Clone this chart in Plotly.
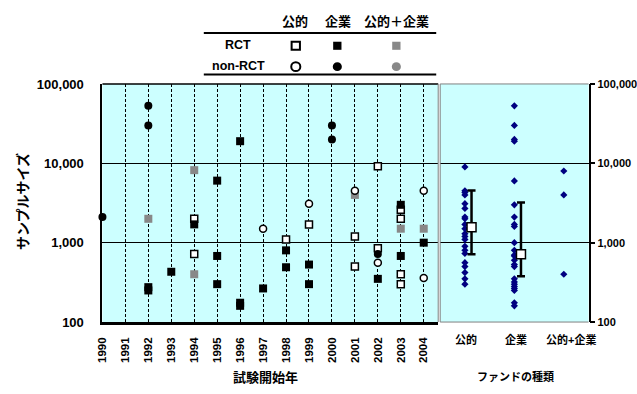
import plotly.graph_objects as go

W, H = 637, 394
FONT = "Liberation Sans, Arial, Noto Sans CJK JP"

# ---- sample sizes by trial start year ----
years = list(range(1990, 2005))
year_labels = [str(y) for y in years]

pub_rct_year = [1994, 1994, 1998, 1999, 2001, 2001, 2002, 2002, 2003, 2003, 2003, 2003]
pub_rct_n = [2000, 720, 1100, 1700, 1200, 500, 9200, 850, 2600, 2000, 400, 300]

com_rct_year = [1992, 1992, 1993, 1994, 1995, 1995, 1995, 1996, 1996, 1996, 1997,
                1998, 1998, 1999, 1999, 2002, 2003, 2003, 2004]
com_rct_n = [275, 250, 430, 1700, 6050, 680, 300, 19000, 175, 160, 265,
             800, 490, 530, 300, 350, 3000, 680, 1000]

mix_rct_year = [1992, 1994, 1994, 2001, 2003, 2004]
mix_rct_n = [2000, 8200, 400, 4000, 1500, 1500]

pub_non_year = [1997, 1999, 2001, 2002, 2004, 2004]
pub_non_n = [1500, 3100, 4500, 560, 4500, 360]

com_non_year = [1990, 1992, 1992, 2000, 2000, 2002]
com_non_n = [2100, 53000, 30000, 30000, 20000, 720]

# ---- sample sizes by funding type ----
fund_types = ["公的", "企業", "公的+企業"]
pub_all = [9000, 4500, 4300, 4000, 3100, 2700, 2100, 2000, 1700, 1500, 1300,
           1200, 1100, 900, 800, 730, 560, 500, 420, 350, 300]
com_all = [53000, 30000, 20000, 19000, 6000, 3000, 2100, 1700, 1600, 1000, 800,
           700, 680, 600, 530, 500, 350, 320, 300, 280, 265, 250, 175, 160]
mix_all = [8000, 4000, 400]
summary_center = [1560, 716]
summary_low = [716, 377]
summary_high = [4550, 3200]

y_ticks = [100, 1000, 10000, 100000]
y_ticktext = ["100", "1,000", "10,000", "100,000"]


def px(x):
    return x / W


def py(y):
    return 1 - y / H


L_X0, L_X1 = 97.5, 437
R_X0, R_X1 = 439, 589
P_Y0, P_Y1 = 80, 327.5

fig = go.Figure()

WHITE_SQ = dict(symbol="square", size=7, color="white", line=dict(color="black", width=1.5))
BLACK_SQ = dict(symbol="square", size=8, color="black", line=dict(width=0))
GRAY_SQ = dict(symbol="square", size=8, color="#888888", line=dict(width=0))
WHITE_CI = dict(symbol="circle", size=7, color="white", line=dict(color="black", width=1.5))
BLACK_CI = dict(symbol="circle", size=8, color="black", line=dict(width=0))

for xs, ys, mk in [
    (pub_rct_year, pub_rct_n, WHITE_SQ),
    (com_rct_year, com_rct_n, BLACK_SQ),
    (mix_rct_year, mix_rct_n, GRAY_SQ),
    (pub_non_year, pub_non_n, WHITE_CI),
    (com_non_year, com_non_n, BLACK_CI),
]:
    fig.add_trace(go.Scatter(x=xs, y=ys, mode="markers", marker=mk,
                             xaxis="x", yaxis="y", cliponaxis=False,
                             hoverinfo="skip"))

# funding-type panel: individual studies
for i, vals in enumerate([pub_all, com_all, mix_all]):
    fig.add_trace(go.Scatter(x=[i] * len(vals), y=vals, mode="markers",
                             marker=dict(symbol="diamond", size=5.5, color="#000080"),
                             xaxis="x2", yaxis="y2", hoverinfo="skip"))

# summary markers with ranges, offset slightly right of the dots
sx = [i + 0.134 for i in range(len(summary_center))]
fig.add_trace(go.Scatter(
    x=sx, y=summary_center, mode="markers",
    marker=dict(symbol="square", size=9, color="white", line=dict(color="black", width=1.5)),
    error_y=dict(type="data", symmetric=False,
                 array=[h - c for h, c in zip(summary_high, summary_center)],
                 arrayminus=[c - l for c, l in zip(summary_center, summary_low)],
                 color="black", thickness=2.5, width=4),
    xaxis="x2", yaxis="y2", hoverinfo="skip"))

tick_font = dict(family=FONT, size=13, color="black", weight="bold")

fig.update_layout(
    width=W, height=H,
    margin=dict(l=0, r=0, t=0, b=0),
    paper_bgcolor="white",
    plot_bgcolor="#CCFFFF",
    showlegend=False,
    font=dict(family=FONT, color="black"),
    xaxis=dict(
        domain=[px(L_X0), px(L_X1)], range=[1990, 2004.63], anchor="y",
        tickvals=years, ticktext=year_labels, tickangle=-90,
        tickfont=dict(family=FONT, size=11.5, color="black", weight="bold"),
        ticklabelstandoff=8,
        showgrid=True, gridcolor="black", gridwidth=1, griddash="3px,2px",
        showline=True, linecolor="black", linewidth=2.5, zeroline=False,
    ),
    yaxis=dict(
        domain=[py(P_Y1), py(P_Y0)], type="log", range=[2, 5], anchor="x",
        tickvals=y_ticks, ticktext=y_ticktext, tickfont=tick_font,
        ticklabelstandoff=14,
        showgrid=True, gridcolor="black", gridwidth=1,
        showline=True, linecolor="black", linewidth=2, zeroline=False,
    ),
    xaxis2=dict(
        domain=[px(R_X0), px(R_X1)], range=[-0.5, 2.5], anchor="y2",
        tickvals=[0, 1, 2], ticktext=["", "", ""],
        showgrid=False, showline=False, zeroline=False,
    ),
    yaxis2=dict(
        domain=[py(P_Y1), py(P_Y0)], type="log", range=[2, 5], anchor="x2",
        side="right", tickvals=y_ticks, ticktext=y_ticktext,
        tickfont=dict(family=FONT, size=11, color="black", weight="bold"),
        ticks="outside", ticklen=5, tickwidth=1.5, tickcolor="black",
        showgrid=True, gridcolor="black", gridwidth=1,
        showline=True, linecolor="black", linewidth=1.5, zeroline=False,
    ),
)

shapes = []
# panel borders
shapes.append(dict(type="line", xref="paper", yref="paper",
                   x0=px(L_X0), x1=px(L_X1), y0=py(P_Y0), y1=py(P_Y0),
                   line=dict(color="black", width=1.5)))
shapes.append(dict(type="line", xref="paper", yref="paper",
                   x0=px(L_X1), x1=px(L_X1), y0=py(P_Y0), y1=py(P_Y1),
                   line=dict(color="#808080", width=1)))
for (x0, y0, x1, y1) in [(R_X0, P_Y0, R_X1, P_Y0), (R_X0, P_Y0, R_X0, P_Y1),
                         (R_X0, P_Y1, R_X1, P_Y1)]:
    shapes.append(dict(type="line", xref="paper", yref="paper",
                       x0=px(x0), x1=px(x1), y0=py(y0), y1=py(y1),
                       line=dict(color="#808080", width=1)))

# key table rules
for yy in (27, 70.3):
    shapes.append(dict(type="line", xref="paper", yref="paper",
                       x0=px(200), x1=px(435), y0=py(yy), y1=py(yy),
                       line=dict(color="black", width=2)))

# key table symbols
key_cols = [293, 335, 394.7]
key_fill = ["white", "black", "#888888"]
key_line = ["black", "black", "#888888"]
for cx, fc, lc in zip(key_cols, key_fill, key_line):
    s = 4.2
    shapes.append(dict(type="rect", xref="paper", yref="paper",
                       x0=px(cx - s), x1=px(cx + s), y0=py(40.3 - s), y1=py(40.3 + s),
                       fillcolor=fc, line=dict(color=lc, width=2 if fc == "white" else 0)))
    r = 4.6
    shapes.append(dict(type="circle", xref="paper", yref="paper",
                       x0=px(cx - r), x1=px(cx + r), y0=py(62 - r), y1=py(62 + r),
                       fillcolor=fc, line=dict(color=lc, width=2 if fc == "white" else 0)))
fig.update_layout(shapes=shapes)

annotations = []


def label(text, x, y, size, angle=0, xref="paper"):
    annotations.append(dict(text=text, x=x if xref != "paper" else px(x), y=py(y),
                            xref=xref, yref="paper",
                            showarrow=False, textangle=angle,
                            xanchor="center", yanchor="middle",
                            font=dict(family=FONT, size=size, color="black", weight="bold")))


label("公的", 292.5, 15, 13)
label("企業", 336, 15, 13)
label("公的＋企業", 395, 15, 13)
label("RCT", 235, 39.5, 12.5)
label("non-RCT", 235, 61, 12.5)
label("サンプルサイズ", 17, 202, 14, angle=-90)
label("試験開始年", 262, 385, 13)
label("ファンドの種類", 515, 384, 11)
# category names under the funding-type panel
for i, name in enumerate(fund_types):
    shift = 0.14 if i == 2 else 0.03
    label(name, i + shift, 346, 11, xref="x2")
fig.update_layout(annotations=annotations)

fig.write_html("out.html")
